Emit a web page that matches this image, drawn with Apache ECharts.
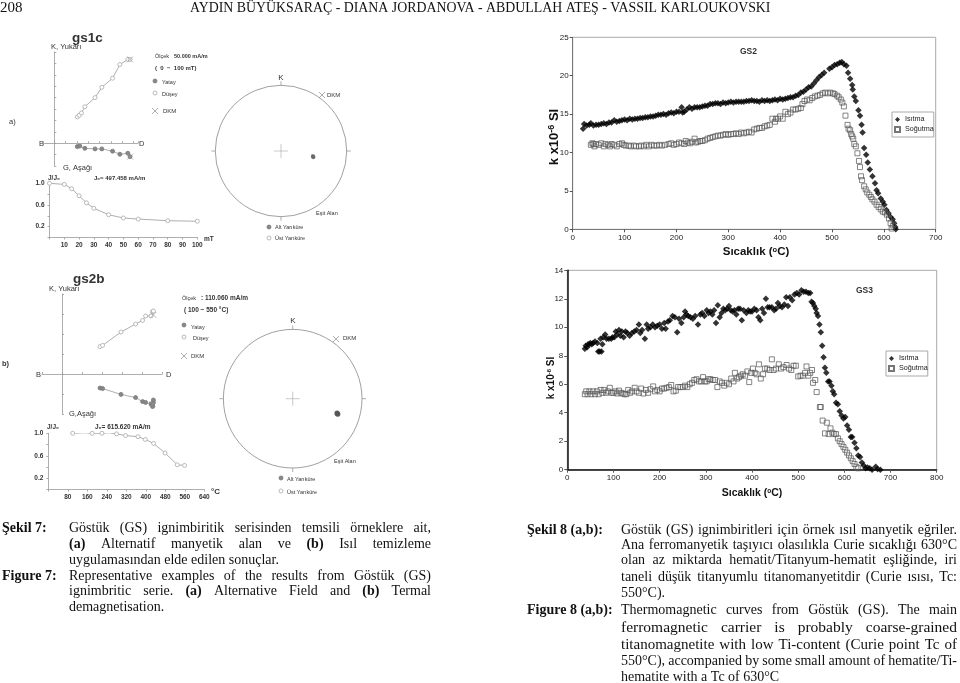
<!DOCTYPE html>
<html>
<head>
<meta charset="utf-8">
<style>html,body{margin:0;padding:0;background:#fff}#main{width:960px;height:683px}</style>
<script src="https://cdn.jsdelivr.net/npm/echarts@6/dist/echarts.min.js"></script>
</head>
<body>
<div id="main"></div>
<script>
// thermomagnetic curves, [temperature, k]
const gs2Heat = [[20,13.1],[22,13.7],[27,13.5],[32,13.6],[35,13.8],[40,13.5],[45,13.6],[50,13.6],[55,13.7],[60,13.8],[65,13.7],[70,13.9],[75,13.9],[80,14.2],[85,14.0],[90,14.1],[95,14.2],[100,14.3],[105,14.2],[110,14.4],[115,14.3],[120,14.4],[125,14.4],[130,14.5],[135,14.5],[140,14.6],[145,14.6],[150,14.7],[155,14.7],[160,14.8],[165,14.9],[170,14.9],[175,15.0],[180,14.9],[185,15.1],[190,15.2],[195,15.1],[200,15.3],[205,15.3],[210,15.9],[212,15.2],[215,15.3],[220,15.6],[225,15.9],[230,15.7],[235,15.9],[240,15.9],[245,15.9],[250,16.0],[255,16.1],[260,16.1],[265,16.3],[270,16.3],[275,16.4],[280,16.4],[285,16.3],[290,16.5],[295,16.4],[300,16.5],[305,16.6],[310,16.5],[315,16.6],[320,16.6],[325,16.6],[330,16.6],[335,16.7],[340,16.7],[345,16.8],[350,16.7],[355,16.7],[360,16.6],[365,16.8],[370,16.7],[375,16.8],[380,16.7],[385,16.8],[390,16.9],[395,16.8],[400,17.0],[405,16.9],[410,17.0],[415,17.1],[420,17.2],[425,17.2],[430,17.4],[435,17.5],[440,17.8],[445,17.9],[450,18.2],[455,18.5],[460,18.6],[465,19.0],[470,19.4],[475,19.8],[480,20.1],[485,20.4],[495,20.9],[500,21.1],[505,21.4],[510,21.5],[515,21.7],[519,21.8],[523,21.5],[528,21.3],[531,20.4],[535,19.6],[539,18.8],[540,18.2],[543,17.3],[546,16.7],[551,15.5],[554,14.8],[557,13.6],[559,12.6],[562,10.6],[566,9.7],[569,8.7],[573,7.8],[578,6.9],[583,6.0],[586,5.1],[589,4.7],[594,4.0],[598,3.6],[601,3.2],[605,2.5],[609,2.1],[613,1.6],[617,1.3],[620,0.8],[622,0.3],[623,0]];
const gs2Cool = [[35,11.0],[38,11.2],[40,11.1],[42,10.8],[45,11.1],[50,11.0],[55,11.2],[60,10.8],[63,11.1],[68,11.0],[72,10.8],[75,11.1],[80,11.0],[85,10.8],[90,11.1],[95,11.2],[98,11.0],[102,10.9],[108,10.9],[112,10.8],[118,10.9],[122,10.8],[128,10.8],[132,10.9],[137,10.8],[142,11.0],[147,10.8],[152,11.0],[157,10.9],[162,10.9],[167,11.0],[172,10.9],[178,11.0],[185,11.1],[190,11.2],[195,11.0],[200,11.1],[205,11.3],[210,11.2],[215,11.1],[218,11.5],[222,11.3],[226,11.2],[230,11.4],[235,11.8],[238,11.3],[242,11.4],[246,11.5],[250,11.5],[255,11.6],[260,11.8],[265,11.9],[270,12.0],[275,12.1],[280,12.2],[285,12.2],[290,12.3],[295,12.4],[300,12.3],[305,12.4],[310,12.4],[315,12.5],[320,12.4],[325,12.6],[330,12.5],[335,12.6],[340,12.7],[345,12.6],[350,13.0],[355,13.1],[360,13.2],[365,13.2],[370,13.4],[375,13.5],[380,13.6],[385,14.4],[390,14.0],[392,14.4],[396,14.4],[400,14.7],[405,14.4],[410,15.3],[415,15.0],[420,15.2],[425,15.6],[430,15.6],[435,15.7],[440,15.8],[443,16.3],[447,16.7],[452,16.9],[457,16.8],[462,17.1],[467,17.3],[472,17.4],[477,17.5],[482,17.7],[487,17.8],[492,17.7],[497,17.8],[502,17.7],[505,17.6],[510,17.4],[513,17.2],[517,16.9],[520,16.5],[523,16.0],[526,14.8],[530,13.6],[532,13.1],[535,12.9],[537,12.4],[539,12.1],[541,11.8],[543,11.1],[546,10.8],[549,9.9],[552,8.9],[554,8.1],[556,6.9],[558,6.4],[562,5.6],[565,5.2],[568,4.8],[572,4.5],[575,4.2],[578,3.9],[582,3.6],[586,3.2],[590,2.9],[594,2.6],[598,2.3],[602,2.2],[606,1.9],[610,1.4],[613,0.8],[615,0.1],[618,0.5]];
const gs3Heat = [[38,8.5],[40,8.7],[43,8.6],[45,8.8],[48,8.8],[50,8.9],[53,8.8],[56,8.9],[60,9.0],[65,8.9],[67,8.3],[70,8.3],[72,9.2],[74,8.3],[76,8.8],[78,9.3],[82,9.5],[85,9.2],[90,9.2],[95,9.2],[98,9.3],[102,9.3],[105,9.7],[108,9.5],[112,9.8],[115,9.4],[118,9.7],[122,9.3],[126,9.7],[130,9.6],[135,9.4],[140,9.6],[145,9.7],[150,9.8],[155,10.2],[158,9.6],[162,9.8],[168,9.2],[172,10.2],[175,9.9],[180,10.0],[185,10.2],[190,10.0],[195,10.1],[200,10.2],[205,9.9],[210,10.3],[213,9.9],[218,10.4],[222,10.5],[228,10.8],[233,10.7],[238,9.65],[242,10.6],[247,10.3],[252,10.7],[255,11.1],[258,10.9],[262,10.8],[267,10.7],[272,10.6],[277,10.8],[283,10.2],[288,10.9],[292,11.0],[297,10.8],[302,11.2],[306,11.0],[310,11.1],[314,10.9],[318,11.2],[322,10.3],[326,11.55],[330,10.7],[334,11.0],[338,11.3],[342,11.2],[346,11.3],[350,11.5],[354,11.2],[358,11.1],[362,11.2],[366,10.9],[370,11.3],[374,11.3],[378,10.5],[382,11.2],[388,11.0],[392,11.2],[396,11.1],[400,11.1],[405,11.3],[410,11.2],[414,10.7],[418,10.5],[422,11.3],[426,11.0],[430,12.0],[434,11.4],[438,11.4],[443,11.4],[448,11.2],[452,11.3],[456,11.7],[460,11.5],[465,11.4],[470,11.6],[474,12.1],[478,11.5],[482,12.1],[487,11.9],[492,12.3],[497,12.4],[502,12.3],[507,12.6],[512,12.5],[517,12.5],[522,12.4],[526,12.4],[529,11.8],[532,11.7],[535,11.5],[538,11.3],[540,11.0],[543,10.8],[546,10.2],[549,9.65],[552,8.7],[555,7.9],[558,7.15],[561,6.8],[565,6.2],[568,6.2],[572,5.9],[575,5.5],[578,5.3],[582,4.7],[586,4.6],[590,4.1],[594,3.8],[598,3.6],[602,3.7],[606,3.1],[610,2.8],[614,2.3],[617,2.3],[622,1.9],[626,1.5],[630,1.0],[634,0.9],[638,0.5],[642,0.3],[646,0.1],[650,0.15],[655,0.1],[660,0.0],[668,0.2],[672,0.05],[678,0]];
const gs3Cool = [[38,5.3],[41,5.5],[44,5.3],[48,5.5],[52,5.3],[56,5.5],[60,5.3],[64,5.5],[68,5.3],[72,5.6],[76,5.4],[80,5.6],[84,5.4],[88,5.5],[92,5.75],[96,5.4],[100,5.4],[104,5.5],[108,5.35],[112,5.55],[116,5.4],[120,5.35],[124,5.3],[128,5.3],[132,5.6],[136,5.4],[140,5.5],[146,5.75],[150,5.5],[155,5.4],[160,5.7],[165,5.35],[170,5.6],[175,5.4],[180,5.65],[186,5.85],[190,5.5],[195,5.6],[200,5.5],[205,5.7],[210,5.7],[215,5.75],[220,5.8],[225,5.95],[230,5.5],[235,5.55],[240,5.8],[245,5.8],[250,5.8],[255,5.9],[260,5.8],[265,6.0],[270,6.1],[275,6.3],[280,6.35],[285,6.2],[290,6.2],[294,6.5],[298,6.2],[302,6.2],[306,6.35],[310,6.35],[315,6.3],[320,6.3],[325,5.8],[330,6.2],[335,6.1],[340,5.9],[345,6.1],[350,6.0],[355,6.4],[360,6.2],[363,6.8],[368,6.4],[372,6.5],[376,6.6],[380,6.7],[385,6.6],[390,6.9],[394,6.15],[398,6.8],[402,7.1],[406,6.8],[410,6.7],[415,7.4],[419,6.4],[424,6.7],[428,7.1],[433,7.1],[438,7.0],[443,7.75],[447,7.0],[452,7.1],[458,7.4],[463,7.1],[468,7.2],[475,7.35],[480,7.1],[485,7.0],[490,7.3],[495,7.3],[500,6.55],[505,6.6],[510,6.6],[515,6.8],[518,7.25],[522,6.6],[526,6.8],[530,7.0],[532,6.1],[537,6.3],[540,5.45],[547,4.4],[549,4.4],[553,3.45],[558,2.55],[562,3.3],[566,2.5],[570,2.9],[574,2.6],[578,2.5],[582,2.5],[586,2.2],[590,2.0],[594,1.8],[598,1.6],[602,1.4],[606,1.2],[610,1.0],[614,0.8],[618,0.6],[622,0.4],[626,0.2],[630,0.1]];

// orthogonal projections, in tick units
const s1Vertical = [[2.03,2.3],[2.2,2.45],[2.4,2.65],[2.7,3.2],[3.6,4.0],[4.2,4.9],[5.15,5.7],[5.8,6.9],[6.5,7.35],[6.7,7.35]];
const s1Horizontal = [[2.03,-0.3],[2.25,-0.25],[2.7,-0.45],[3.6,-0.5],[4.2,-0.5],[5.15,-0.7],[5.8,-0.97],[6.5,-0.88],[6.7,-1.18]];
const s1Dkm = [[6.7,7.35],[6.7,-1.18]];
const s2Vertical = [[1.9,1.37],[2.03,1.43],[2.95,2.1],[3.68,2.5],[4.03,2.68],[4.18,2.9],[4.45,2.9],[4.53,3.12],[4.57,3.15]];
const s2Horizontal = [[1.9,-0.7],[2.03,-0.73],[2.95,-1.02],[3.68,-1.18],[4.03,-1.38],[4.18,-1.42],[4.45,-1.5],[4.53,-1.55],[4.57,-1.43],[4.57,-1.3],[4.53,-1.63]];
const s2Dkm = [[4.57,2.95],[4.53,-1.5]];

// intensity decay
const s1Decay = [[0,1.0],[10,0.98],[15,0.9],[20,0.77],[25,0.64],[30,0.54],[40,0.42],[50,0.36],[60,0.34],[80,0.31],[100,0.3]];
const s2Decay = [[100,1.0],[150,1.01],[180,1.0],[220,1.0],[250,1.01],[280,0.99],[317,0.96],[368,0.94],[398,0.89],[432,0.82],[479,0.65],[529,0.44],[559,0.43]];
const decayLabels = ['1.0','0.6','0.2'];

// equal area plots, [radius, bearing]
const s1Stereo = [[0.5,100],[0.5,101],[0.49,99]];
const s2Stereo = [[0.68,108],[0.68,109],[0.67,108],[0.69,109]];

const header = 'AYDIN BÜYÜKSARAÇ - DIANA JORDANOVA - ABDULLAH ATEŞ - VASSIL KARLOUKOVSKI';
const captionLeft = [
  ['Göstük (GS) ignimbiritik serisinden temsili örneklere ait,', 528, true],
  ['*(a) Alternatif manyetik alan ve *(b) Isıl temizleme', 544, true],
  ['uygulamasından elde edilen sonuçlar.', 560, false],
  ['Representative examples of the results from Göstük (GS)', 576, true],
  ['ignimbritic serie. *(a) Alternative Field and *(b) Termal', 591, true],
  ['demagnetisation.', 607, false]
];
const captionRight = [
  ['Göstük (GS) ignimbiritleri için örnek ısıl manyetik eğriler.', 530, true, 14],
  ['Ana ferromanyetik taşıyıcı olasılıkla Curie sıcaklığı 630°C', 545, true, 14],
  ['olan az miktarda hematit/Titanyum-hematit eşliğinde, iri', 560, true, 14],
  ['taneli düşük titanyumlu titanomanyetitdir (Curie ısısı, Tc:', 577, true, 14],
  ['550°C).', 593, false, 14],
  ['Thermomagnetic curves from Göstük (GS). The main', 610, true, 14],
  ['ferromagnetic carrier is probably coarse-grained', 628, true, 15.5],
  ['titanomagnetite with low Ti-content (Curie point Tc of', 645, true, 15],
  ['550°C), accompanied by some small amount of hematite/Ti-', 661, true, 14],
  ['hematite with a Tc of 630°C', 677, false, 14]
];

const graphics = [];
const SERIF = '"Liberation Serif"';
const SANS = '"Liberation Sans"';
const ctx = document.createElement('canvas').getContext('2d');

function label(x, y, text, size, opts) {
  opts = opts || {};
  graphics.push({
    type: 'text', silent: true,
    style: {
      x, y, text,
      font: (opts.bold ? 'bold ' : '') + size + 'px ' + (opts.family || SANS),
      fill: opts.color || '#333',
      align: opts.align || 'left',
      verticalAlign: 'middle'
    }
  });
}
// stretch one line over the column width, word by word
function justified(line, x, y, width, size, stretch) {
  const words = line.split(' ').map(w => {
    const bold = w[0] === '*';
    const text = bold ? w.slice(1) : w;
    ctx.font = (bold ? 'bold ' : '') + size + 'px ' + SERIF;
    return { text, bold, w: ctx.measureText(text).width };
  });
  const used = words.reduce((a, b) => a + b.w, 0);
  const gap = stretch ? (width - used) / (words.length - 1) : size * 0.25;
  let cx = x;
  words.forEach(w => {
    label(cx, y, w.text, size, { family: SERIF, bold: w.bold, color: '#111' });
    cx += w.w + gap;
  });
}
function dot(x, y, filled) {
  graphics.push({ type: 'circle', silent: true, shape: { cx: x, cy: y, r: 2 },
    style: { fill: filled ? '#888' : '#fff', stroke: filled ? '#777' : '#aaa', lineWidth: 0.8 } });
}
function cross(x, y) {
  [[-3, -3, 3, 3], [-3, 3, 3, -3]].forEach(d => graphics.push({
    type: 'line', silent: true,
    shape: { x1: x + d[0], y1: y + d[1], x2: x + d[2], y2: y + d[3] },
    style: { stroke: '#999', lineWidth: 0.8 }
  }));
}

// page text
label(0, 8, '208', 15, { family: SERIF, color: '#111' });
label(190, 8, header, 13.85, { family: SERIF, color: '#111' });
label(2, 528, 'Şekil 7:', 14, { family: SERIF, bold: true, color: '#111' });
label(2, 576, 'Figure 7:', 14, { family: SERIF, bold: true, color: '#111' });
label(527, 530, 'Şekil 8 (a,b):', 14, { family: SERIF, bold: true, color: '#111' });
label(527, 610, 'Figure 8 (a,b):', 14, { family: SERIF, bold: true, color: '#111' });
captionLeft.forEach(l => justified(l[0], 69, l[1], 362, 14, l[2]));
captionRight.forEach(l => justified(l[0], 621, l[1], 336, l[3], l[2]));

// panel a text
label(72, 38, 'gs1c', 13.5, { bold: true });
label(51, 47, 'K, Yukarı', 7.5);
label(39, 144, 'B', 7.5);
label(139, 144, 'D', 7.5);
label(63, 168, 'G, Aşağı', 7.5);
label(48, 178, 'J/J₀', 6.5, { bold: true });
label(94, 178, 'J₀= 497.458 mA/m', 6, { bold: true });
label(155, 56, 'Ölçek', 5.5);
label(174, 56, '50.000 mA/m', 5.5, { bold: true });
label(155, 68, '(  0  −  100 mT)', 6, { bold: true });
dot(155, 81, true); label(162, 82, 'Yatay', 5.5);
dot(155, 93, false); label(162, 94, 'Düşey', 5.5);
cross(155, 111); label(163, 111, 'DKM', 6);
label(281, 78, 'K', 8, { align: 'center' });
cross(322, 95); label(327, 95, 'DKM', 6);
label(316, 213, 'Eşit Alan', 5.5);
dot(269, 227, true); label(275, 227, 'Alt Yarıküre', 5.5);
dot(269, 238, false); label(275, 238, 'Üst Yarıküre', 5.5);
label(9, 122, 'a)', 7.5);
label(204, 239, 'mT', 6.5, { bold: true });

// panel b text
label(73, 279, 'gs2b', 13.5, { bold: true });
label(49, 289, 'K, Yukarı', 7.5);
label(36, 375, 'B', 7.5);
label(166, 375, 'D', 7.5);
label(69, 414, 'G,Aşağı', 7.5);
label(47, 427, 'J/J₀', 6.5, { bold: true });
label(95, 427, 'J₀= 615.620 mA/m', 6.5, { bold: true });
label(182, 298, 'Ölçek', 5.5);
label(201, 298, ': 110.060 mA/m', 6.5, { bold: true });
label(184, 310, '( 100 − 550 °C)', 6.5, { bold: true });
dot(184, 325, true); label(191, 327, 'Yatay', 5.5);
dot(184, 337, false); label(193, 338, 'Düşey', 5.5);
cross(184, 356); label(191, 356, 'DKM', 6);
label(293, 321, 'K', 8, { align: 'center' });
cross(336, 339); label(343, 338, 'DKM', 6);
label(334, 461, 'Eşit Alan', 5.5);
dot(281, 478, true); label(287, 479, 'Alt Yarıküre', 5.5);
dot(281, 491, false); label(287, 492, 'Üst Yarıküre', 5.5);
label(2, 364, 'b)', 7.5, { bold: true });
label(211, 492, '°C', 8, { bold: true });

// curve panel text
label(740, 52, 'GS2', 8.5, { bold: true });
label(856, 291, 'GS3', 8.5, { bold: true });
function curveTitles(cx, cy, size, kx, ky, kSize) {
  graphics.push({ type: 'text', silent: true, style: {
    x: cx, y: cy, text: 'Sıcaklık ({s|o}C)', align: 'center', verticalAlign: 'middle',
    font: 'bold ' + size + 'px ' + SANS, fill: '#111',
    rich: { s: { font: 'bold ' + (size - 4) + 'px ' + SANS, verticalAlign: 'top', fill: '#111' } }
  } });
  graphics.push({ type: 'text', silent: true, x: kx, y: ky, rotation: Math.PI / 2, style: {
    x: 0, y: 0, text: 'k x10{s|-6} SI', align: 'center', verticalAlign: 'middle',
    font: 'bold ' + kSize + 'px ' + SANS, fill: '#111',
    rich: { s: { font: 'bold ' + (kSize - 4) + 'px ' + SANS, verticalAlign: 'top', fill: '#111' } }
  } });
}
curveTitles(756, 252, 11.5, 554, 137, 13);
curveTitles(752, 493, 10.5, 551, 378, 10);

const GREY = '#999';
const tickFont = { color: '#222', fontSize: 8, fontFamily: SANS, margin: 4 };
function curveAxis(min, max, interval, gridIndex, dark) {
  return {
    type: 'value', gridIndex, min, max, interval,
    splitLine: { show: false },
    axisLine: { show: true, onZero: false, lineStyle: { color: dark ? '#111' : '#777', width: dark ? 1.5 : 1 } },
    axisTick: { show: true, length: 3, lineStyle: { color: '#555' } },
    axisLabel: tickFont
  };
}
function zijAxis(min, max, gridIndex) {
  return {
    type: 'value', gridIndex, min, max, interval: 1,
    splitLine: { show: false },
    axisLine: { show: true, onZero: true, lineStyle: { color: GREY, width: 0.8 } },
    axisTick: { show: true, length: 2, inside: true, lineStyle: { color: GREY, width: 0.8 } },
    axisLabel: { show: false }
  };
}
function decayX(max, interval, gridIndex) {
  return {
    type: 'value', gridIndex, min: 0, max, interval,
    splitLine: { show: false },
    axisLine: { show: true, onZero: false, lineStyle: { color: GREY, width: 0.8 } },
    axisTick: { show: true, length: 2, lineStyle: { color: GREY, width: 0.8 } },
    axisLabel: { color: '#333', fontSize: 6.5, fontWeight: 'bold', fontFamily: SANS, margin: 4,
      formatter: v => v === 0 ? '' : String(v) }
  };
}
function decayY(gridIndex) {
  return {
    type: 'value', gridIndex, min: 0, max: 1, interval: 0.2,
    splitLine: { show: false },
    axisLine: { show: true, onZero: false, lineStyle: { color: GREY, width: 0.8 } },
    axisTick: { show: true, length: 2, lineStyle: { color: GREY, width: 0.8 } },
    axisLabel: { color: '#333', fontSize: 6.5, fontWeight: 'bold', fontFamily: SANS, margin: 5,
      formatter: v => decayLabels.includes(v.toFixed(1)) ? v.toFixed(1) : '' }
  };
}
function angle(polarIndex) {
  return {
    type: 'value', polarIndex, min: 0, max: 360, interval: 90, startAngle: 90,
    axisLine: { show: true, lineStyle: { color: '#888', width: 0.8 } },
    axisTick: { show: true, length: 4, lineStyle: { color: '#999', width: 0.8 } },
    axisLabel: { show: false }, splitLine: { show: false }
  };
}
function radius(polarIndex) {
  return { type: 'value', polarIndex, min: 0, max: 1, axisLine: { show: false }, axisTick: { show: false },
    axisLabel: { show: false }, splitLine: { show: false } };
}
const heat = (data, i) => ({ name: 'Isıtma', type: 'scatter', xAxisIndex: i, yAxisIndex: i, data,
  symbol: 'diamond', symbolSize: 6.5, itemStyle: { color: '#000' }, z: 3 });
const cool = (data, i) => ({ name: 'Soğutma', type: 'scatter', xAxisIndex: i, yAxisIndex: i, data,
  symbol: 'rect', symbolSize: 5, itemStyle: { color: 'rgba(255,255,255,0.05)', borderColor: '#555', borderWidth: 0.9 }, z: 4 });
const zijLine = (name, data, i, filled) => ({ name, type: 'line', xAxisIndex: i, yAxisIndex: i, data,
  symbol: 'circle', symbolSize: 4, lineStyle: { color: '#999', width: 0.8 }, showSymbol: true,
  itemStyle: { color: filled ? '#888' : '#fff', borderColor: filled ? '#777' : '#aaa', borderWidth: 0.8 }, z: 3 });
const xMarks = (name, data, i) => ({ name, type: 'scatter', xAxisIndex: i, yAxisIndex: i, data,
  symbol: 'path://M0,0 L20,20 M0,20 L20,0', symbolSize: 6,
  itemStyle: { color: 'none', borderColor: '#999', borderWidth: 0.8 }, z: 4 });
const legendFor = (left, top) => ({
  left, top, orient: 'vertical', data: ['Isıtma', 'Soğutma'], selectedMode: false,
  borderColor: '#aaa', borderWidth: 1, padding: [4, 0, 4, 2], itemGap: 3, itemWidth: 5, itemHeight: 5,
  textStyle: { fontSize: 7.2, fontFamily: SANS, color: '#222' }
});

const option = {
  animation: false,
  backgroundColor: '#fff',
  grid: [
    { left: 572.7, top: 37.3, width: 363, height: 192, show: true, borderColor: '#aaa', borderWidth: 1 },
    { left: 567.3, top: 270.3, width: 369.4, height: 199.4, show: true, borderColor: '#aaa', borderWidth: 1 },
    { left: 43, top: 52, width: 95, height: 114 },
    { left: 49.5, top: 183.3, width: 147.8, height: 54.2 },
    { left: 42, top: 294, width: 120, height: 120 },
    { left: 48.3, top: 433.3, width: 156, height: 56.3 }
  ],
  xAxis: [curveAxis(0, 700, 100, 0), curveAxis(0, 800, 100, 1, true), zijAxis(-1, 7.4, 2), decayX(100, 10, 3), zijAxis(-1, 5, 4), decayX(640, 80, 5)],
  yAxis: [curveAxis(0, 25, 5, 0), curveAxis(0, 14, 2, 1, true), zijAxis(-2, 8, 2), decayY(3), zijAxis(-2, 4, 4), decayY(5)],
  polar: [
    { center: [281, 151], radius: 65.7 },
    { center: [292.7, 398.7], radius: 69.3 }
  ],
  angleAxis: [angle(0), angle(1)],
  radiusAxis: [radius(0), radius(1)],
  legend: [legendFor(892, 112), legendFor(886, 351)],
  graphic: { elements: graphics },
  series: [
    cool(gs2Cool, 0), heat(gs2Heat, 0),
    cool(gs3Cool, 1), heat(gs3Heat, 1),
    zijLine('Düşey', s1Vertical, 2, false), zijLine('Yatay', s1Horizontal, 2, true), xMarks('DKM', s1Dkm, 2),
    zijLine('J/J0', s1Decay, 3, false),
    zijLine('Düşey', s2Vertical, 4, false), zijLine('Yatay', s2Horizontal, 4, true), xMarks('DKM', s2Dkm, 4),
    zijLine('J/J0', s2Decay, 5, false),
    { type: 'scatter', coordinateSystem: 'polar', polarIndex: 0, data: s1Stereo, symbolSize: 4, itemStyle: { color: '#666' } },
    { type: 'scatter', coordinateSystem: 'polar', polarIndex: 1, data: s2Stereo, symbolSize: 5, itemStyle: { color: '#555' } },
    { type: 'scatter', coordinateSystem: 'polar', polarIndex: 0, data: [[0, 0]], symbol: 'path://M10,0 L10,20 M0,10 L20,10', symbolSize: 14, itemStyle: { color: 'none', borderColor: '#aaa', borderWidth: 0.8 } },
    { type: 'scatter', coordinateSystem: 'polar', polarIndex: 1, data: [[0, 0]], symbol: 'path://M10,0 L10,20 M0,10 L20,10', symbolSize: 14, itemStyle: { color: 'none', borderColor: '#aaa', borderWidth: 0.8 } }
  ]
};

const myChart = echarts.init(document.getElementById('main'));
myChart.setOption(option);
</script>
</body>
</html>
